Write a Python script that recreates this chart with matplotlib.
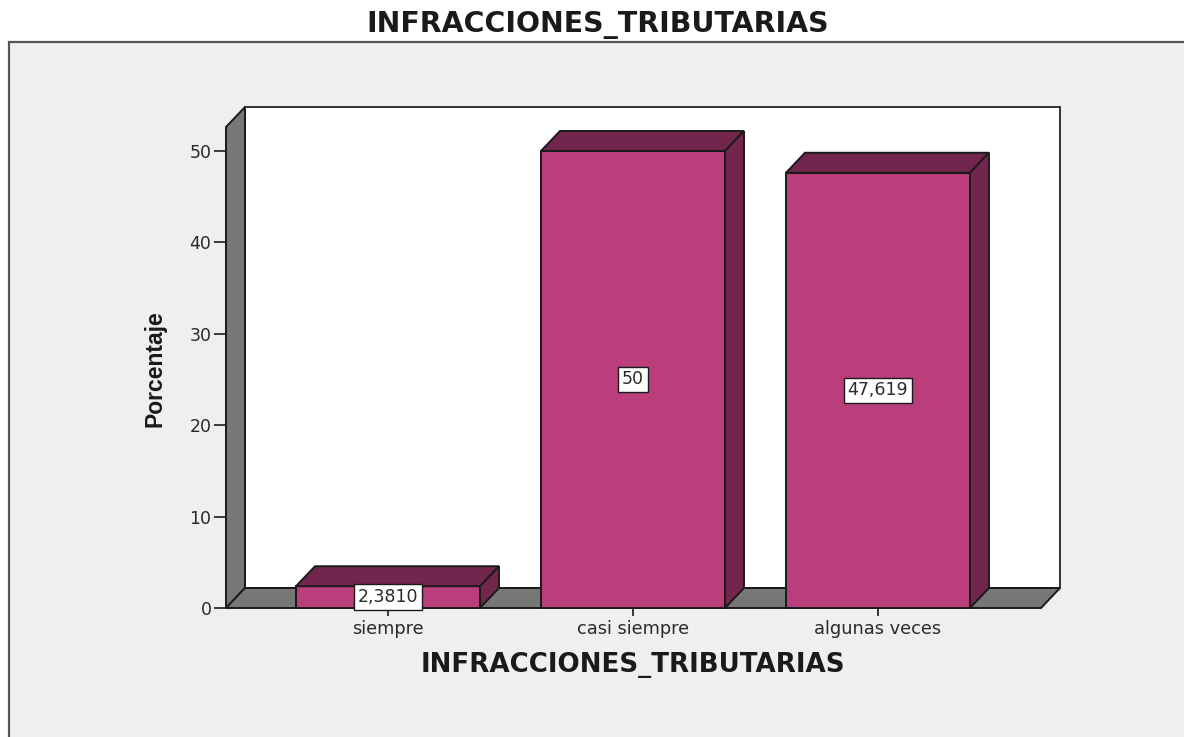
import matplotlib
matplotlib.use('Agg')
import matplotlib.pyplot as plt
from matplotlib.patches import Polygon, Rectangle

categorias = ['siempre', 'casi siempre', 'algunas veces']
porcentaje = [2.381, 50, 47.619]
etiquetas = ['2,3810', '50', '47,619']
yticks = [0, 10, 20, 30, 40, 50]

W, H = 1184, 737
frente = '#BA3E7C'
oscuro = '#72264E'
gris = '#777777'
fondo = '#EFEFEF'
linea = '#1A1A1A'
texto = '#2A2A2A'

fig = plt.figure(figsize=(W / 100, H / 100), dpi=100, facecolor='white')

# panel gris, se sale por la derecha y por abajo
fig.patches.append(Rectangle((9 / W, -0.01), 1.01, 1.01 - 42 / H, transform=fig.transFigure,
                             facecolor=fondo, edgecolor='#555555', linewidth=1.6, zorder=-1))

# ejes en pixeles: 226..1060 en x, 107..608 en y
ax = fig.add_axes([226 / W, 1 - 608 / H, (1060 - 226) / W, (608 - 107) / H])
ax.patch.set_alpha(0)
paso_x = 245
paso_y = 9.14
ax.set_xlim((226 - 388) / paso_x, (1060 - 388) / paso_x)
ax.set_ylim(0, (608 - 107) / paso_y)
x0, x1 = ax.get_xlim()
y0, y1 = ax.get_ylim()
dx = 19 / paso_x
dy = 20 / paso_y
ancho = 184 / paso_x

for s in ax.spines.values():
    s.set_visible(False)

lw = 1.4
# pared del fondo, pared izquierda y suelo
ax.add_patch(Polygon([(x0 + dx, y0 + dy), (x1, y0 + dy), (x1, y1), (x0 + dx, y1)], closed=True,
                     facecolor='white', edgecolor='#333333', linewidth=lw, clip_on=False))
ax.add_patch(Polygon([(x0, y0), (x0 + dx, y0 + dy), (x0 + dx, y1), (x0, y1 - dy)], closed=True,
                     facecolor=gris, edgecolor=linea, linewidth=lw, clip_on=False))
ax.add_patch(Polygon([(x0, y0), (x0 + dx, y0 + dy), (x1, y0 + dy), (x1 - dx, y0)], closed=True,
                     facecolor=gris, edgecolor=linea, linewidth=lw, clip_on=False))

for i, v in enumerate(porcentaje):
    a = i - ancho / 2
    b = i + ancho / 2
    ax.bar(i, v, width=ancho, color=frente, edgecolor=linea, linewidth=lw, clip_on=False, zorder=3)
    ax.add_patch(Polygon([(a, v), (a + dx, v + dy), (b + dx, v + dy), (b, v)], closed=True,
                         facecolor=oscuro, edgecolor=linea, linewidth=lw, clip_on=False, zorder=3))
    ax.add_patch(Polygon([(b, 0), (b + dx, dy), (b + dx, v + dy), (b, v)], closed=True,
                         facecolor=oscuro, edgecolor=linea, linewidth=lw, clip_on=False, zorder=3))
    ax.text(i, v / 2, etiquetas[i], ha='center', va='center', fontsize=12.5, color=texto,
            zorder=5, bbox=dict(boxstyle='square,pad=0.22', facecolor='white', edgecolor=linea, linewidth=1))

ax.set_xticks(range(len(categorias)))
ax.set_xticklabels(categorias, fontsize=12.8, color=texto)
ax.set_yticks(yticks)
ax.set_yticklabels([str(t) for t in yticks], fontsize=12.5, color=texto)
ax.tick_params(axis='x', length=6, width=1.2, color=linea, pad=3)
ax.tick_params(axis='y', length=9, width=1.2, color=linea, pad=1.5)

fig.text(598 / W, 1 - 25 / H, 'INFRACCIONES_TRIBUTARIAS', ha='center', va='center',
         fontweight='bold', fontsize=20.4, color='#1A1A1A')
fig.text(633 / W, 1 - 665 / H, 'INFRACCIONES_TRIBUTARIAS', ha='center', va='center',
         fontweight='bold', fontsize=18.8, color='#1A1A1A')
fig.text(155 / W, 1 - 369 / H, 'Porcentaje', rotation=90, ha='center', va='center',
         family='Liberation Sans', fontweight='bold', fontsize=16.5, color='#1A1A1A')

fig.savefig('out.png', dpi=100)
